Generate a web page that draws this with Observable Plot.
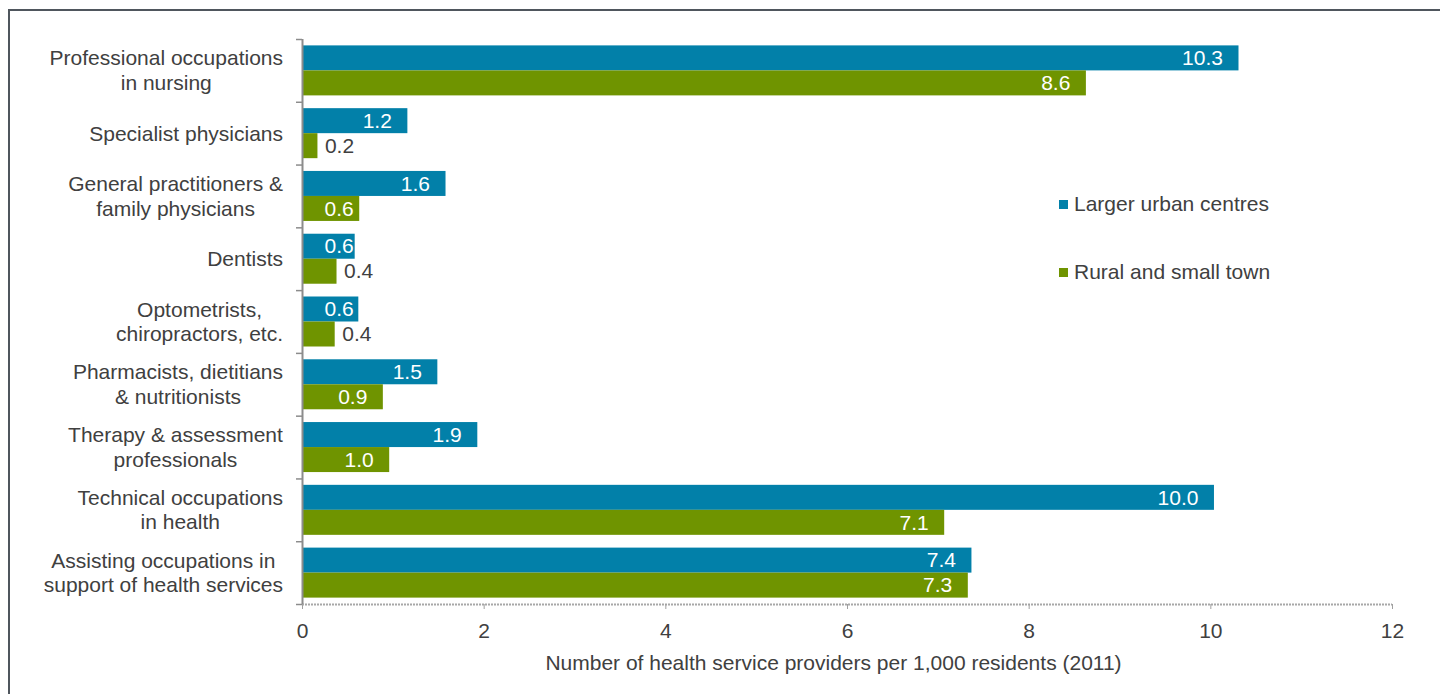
<!DOCTYPE html>
<html>
<head>
<meta charset="utf-8">
<script src="https://cdn.jsdelivr.net/npm/d3@7"></script>
<script src="https://cdn.jsdelivr.net/npm/@observablehq/plot@0.6"></script>
<style>
  html, body { margin: 0; padding: 0; background: #fff; }
  #wrap { position: relative; width: 1440px; height: 694px; overflow: hidden; font-family: "Liberation Sans", Arial, sans-serif; }
  #frame { position: absolute; left: 8px; top: 9px; width: 1500px; height: 800px; border-top: 2px solid #4f565d; border-left: 2px solid #4f565d; }
  #chart { position: absolute; left: 0; top: 0; }
  .leg { position: absolute; left: 1059px; display: flex; align-items: center; font-size: 21px; line-height: 24px; color: #404040; white-space: nowrap; }
  .leg .sw { width: 9px; height: 9px; margin-right: 6px; }
</style>
</head>
<body>
<div id="wrap">
  <div id="frame"></div>
  <div id="chart"></div>
</div>
<script>
// ---- data ----
const categories = [
  "Professional occupations\nin nursing",
  "Specialist physicians",
  "General practitioners &\nfamily physicians",
  "Dentists",
  "Optometrists,\nchiropractors, etc.",
  "Pharmacists, dietitians\n& nutritionists",
  "Therapy & assessment\nprofessionals",
  "Technical occupations\nin health",
  "Assisting occupations in\nsupport of health services"
];
const seriesNames = ["Larger urban centres", "Rural and small town"];
const urbanValues = [10.31, 1.16, 1.58, 0.58, 0.62, 1.49, 1.93, 10.04, 7.37];
const ruralValues = [8.63, 0.17, 0.63, 0.38, 0.36, 0.89, 0.96, 7.07, 7.33];
const seriesColors = ["#0280a9", "#6f9400"];
const xTicks = [0, 2, 4, 6, 8, 10, 12];
const xTitle = "Number of health service providers per 1,000 residents (2011)";

// ---- layout ----
const W = 1440, H = 694, mTop = 39, mBottom = 90, mLeft = 302, mRight = 48;
const padInner = 0.2035, padOuter = padInner / 2;
const step = (H - mTop - mBottom) / categories.length;
const bw = step * (1 - padInner);
const textColor = "#404040";
const axisGray = "#8c8c8c";
const fs = 21;

const rows = categories.flatMap((c, i) => [
  {cat: c, series: seriesNames[0], value: urbanValues[i]},
  {cat: c, series: seriesNames[1], value: ruralValues[i]}
]);
const fmt = d => d.value.toFixed(1);
const mode = v => v < 0.5 ? "outside" : v < 0.75 ? "base" : "end";

const labelMarks = [];
seriesNames.forEach((s, si) => {
  const sub = rows.filter(d => d.series === s);
  const dy = si === 0 ? -bw / 4 : bw / 4;
  const common = {y: "cat", text: fmt, dy, fontSize: fs};
  labelMarks.push(Plot.text(sub.filter(d => mode(d.value) === "end"),
    {...common, x: "value", textAnchor: "end", dx: -16, fill: "white"}));
  labelMarks.push(Plot.text(sub.filter(d => mode(d.value) === "base"),
    {...common, x: () => 0, textAnchor: "start", dx: 22, fill: "white"}));
  labelMarks.push(Plot.text(sub.filter(d => mode(d.value) === "outside"),
    {...common, x: "value", textAnchor: "start", dx: 7, fill: textColor}));
});

const lastCat = categories.slice(-1);

const plot = Plot.plot({
  width: W,
  height: H,
  marginTop: mTop,
  marginBottom: mBottom,
  marginLeft: mLeft,
  marginRight: mRight,
  style: {fontFamily: "'Liberation Sans', Arial, sans-serif", color: textColor, background: "transparent", overflow: "visible"},
  x: {domain: [0, d3.max(xTicks)]},
  y: {domain: categories, paddingInner: padInner, paddingOuter: padOuter, round: false, axis: null},
  color: {domain: seriesNames, range: seriesColors},
  marks: [
    Plot.barX(rows.filter(d => d.series === seriesNames[0]), {y: "cat", x: "value", fill: "series", insetBottom: bw / 2}),
    Plot.barX(rows.filter(d => d.series === seriesNames[1]), {y: "cat", x: "value", fill: "series", insetTop: bw / 2}),
    ...labelMarks,
    Plot.ruleY(lastCat, {y: d => d, dy: step / 2, x1: () => 0, x2: () => d3.max(xTicks), stroke: "#a8a8a8", strokeWidth: 2, strokeDasharray: "2 1"}),
    Plot.ruleX([0], {stroke: axisGray, strokeWidth: 2}),
    Plot.ruleY(categories, {y: d => d, dy: -step / 2, x1: () => 0, x2: () => 0, insetLeft: -6, stroke: axisGray, strokeWidth: 1.5}),
    Plot.ruleY(lastCat, {y: d => d, dy: step / 2, x1: () => 0, x2: () => 0, insetLeft: -6, stroke: axisGray, strokeWidth: 1.5}),
    Plot.axisX(xTicks, {tickSize: 5, tickPadding: 14, fontSize: fs, stroke: "#a0a0a0", label: null}),
    Plot.text([xTitle], {frameAnchor: "bottom", text: d => d, lineAnchor: "top", dy: 51, dx: -14, fontSize: fs, fill: textColor}),
    Plot.text(categories, {y: d => d, x: () => 0, text: d => d, textAnchor: "middle", lineHeight: 1.17, dy: -1, fontSize: fs, fill: textColor, className: "ylab"})
  ]
});

document.getElementById("chart").appendChild(plot);

// right-align each label block (lines centered within block) to the left of the axis
const xs = plot.scale("x");
const rightEdge = xs.apply(0) - 19;
const svgLeft = plot.getBoundingClientRect().left;
plot.querySelectorAll("g.ylab text").forEach(t => {
  const r = t.getBoundingClientRect();
  const shift = rightEdge - (r.right - svgLeft);
  const cur = t.getAttribute("transform") || "";
  t.setAttribute("transform", (cur ? cur + " " : "") + `translate(${shift},0)`);
});

// legend
const wrap = document.getElementById("wrap");
const legendTops = [192, 260];
seriesNames.forEach((s, i) => {
  const d = document.createElement("div");
  d.className = "leg";
  d.style.top = legendTops[i] + "px";
  d.innerHTML = `<span class="sw" style="background:${seriesColors[i]}"></span><span>${s}</span>`;
  wrap.appendChild(d);
});
</script>
</body>
</html>
